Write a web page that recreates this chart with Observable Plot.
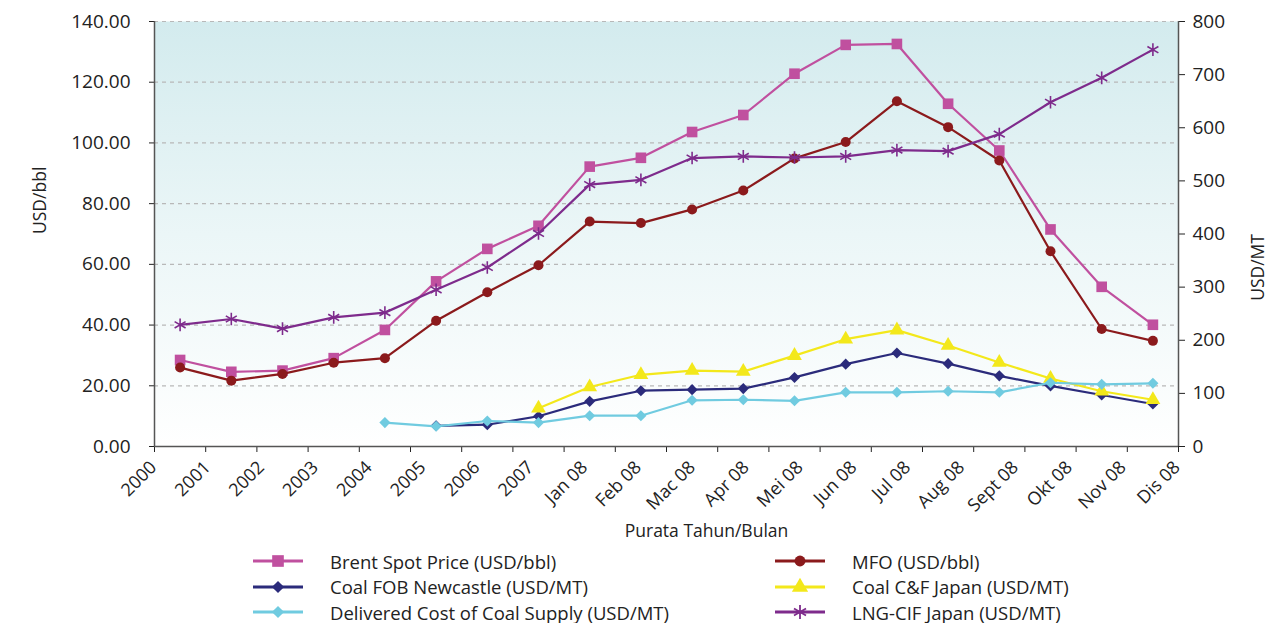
<!DOCTYPE html>
<html>
<head>
<meta charset="utf-8">
<script src="https://cdn.jsdelivr.net/npm/d3@7"></script>
<script src="https://cdn.jsdelivr.net/npm/@observablehq/plot@0.6"></script>
<style>
  html, body { margin: 0; padding: 0; background: #fff; }
  body { width: 1287px; height: 623px; overflow: hidden; font-family: "Open Sans", sans-serif; color: #222; }
  #legend { position: relative; height: 75px; }
  .item { position: absolute; display: flex; align-items: center; height: 26px; font-size: 18.5px; }
  .item svg { margin-right: 27px; }
</style>
</head>
<body>
<div id="chart"></div>
<div id="legend"></div>
<script>
// Categories (x-axis labels)
const categories = ["2000","2001","2002","2003","2004","2005","2006","2007",
  "Jan 08","Feb 08","Mac 08","Apr 08","Mei 08","Jun 08","Jul 08","Aug 08","Sept 08","Okt 08","Nov 08","Dis 08"];

// Left axis series (USD/bbl)
const brent = [28.5, 24.6, 25.0, 29.1, 38.4, 54.4, 65.1, 72.7, 92.2, 95.1, 103.6, 109.2, 122.8, 132.3, 132.6, 112.9, 97.5, 71.5, 52.6, 40.1];
const mfo   = [26.0, 21.7, 23.9, 27.6, 29.1, 41.4, 50.8, 59.7, 74.1, 73.6, 78.1, 84.3, 94.9, 100.3, 113.7, 105.2, 94.2, 64.3, 38.7, 34.8];
// Right axis series (USD/MT)
const coalFob  = [null, null, null, null, null, 39, 41, 57, 85, 105, 107, 109, 130, 155, 176, 156, 133, 114, 97, 80];
const coalCnf  = [null, null, null, null, null, null, null, 72, 112, 135, 143, 141, 171, 202, 219, 190, 158, 128, 104, 88];
const delivered = [null, null, null, null, 45, 38, 48, 45, 58, 58, 87, 88, 86, 102, 102, 104, 102, 120, 117, 119];
const lngCif   = [229, 240, 222, 243, 252, 295, 337, 401, 493, 502, 543, 546, 544, 546, 558, 556, 588, 648, 694, 747];

// Axis ticks
const leftTicks = [0, 20, 40, 60, 80, 100, 120, 140];
const rightTicks = [0, 100, 200, 300, 400, 500, 600, 700, 800];
const leftMax = 140, rightMax = 800;

const seriesDefs = [
  {name: "Brent Spot Price (USD/bbl)", values: brent, axis: "left", color: "#c0509f", symbol: "square", r: 6},
  {name: "MFO (USD/bbl)", values: mfo, axis: "left", color: "#8b1a1c", symbol: "circle", r: 5},
  {name: "Coal FOB Newcastle (USD/MT)", values: coalFob, axis: "right", color: "#2b2b7b", symbol: "diamond2", r: 5},
  {name: "Coal C&F Japan (USD/MT)", values: coalCnf, axis: "right", color: "#f3e81b", symbol: "triangle", r: 5.5},
  {name: "Delivered Cost of Coal Supply (USD/MT)", values: delivered, axis: "right", color: "#70cbe0", symbol: "diamond2", r: 5},
  {name: "LNG-CIF Japan (USD/MT)", values: lngCif, axis: "right", color: "#7e2b8c", symbol: "asterisk", r: 6}
];
const toLeft = v => v * leftMax / rightMax;

const marks = [
  Plot.frame({fill: "url(#bgGrad)", stroke: "none"}),
  Plot.ruleY(leftTicks.filter(d => d > 0), {stroke: "#b8b8b8", strokeWidth: 1.2, strokeDasharray: "4,4"}),
  Plot.axisY(leftTicks, {anchor: "left", label: null, tickFormat: d => d.toFixed(2), tickSize: 5, tickPadding: 19, fontSize: 19}),
  Plot.axisY(rightTicks.map(toLeft), {anchor: "right", label: null, tickFormat: d => String(Math.round(d * rightMax / leftMax)), tickSize: 6, tickPadding: 8, fontSize: 19}),
  Plot.axisX(d3.range(categories.length + 1), {label: null, tickFormat: () => "", tickSize: 6, tickPadding: 0}),
  Plot.ruleX([0, categories.length], {stroke: "#555", strokeWidth: 1.5}),
  Plot.ruleY([0], {stroke: "#555", strokeWidth: 1.5}),
  Plot.text(categories, {
    x: (d, i) => 0.06 + i * 1.052, frameAnchor: "bottom", dy: 22,
    text: d => d, rotate: -45, textAnchor: "end", fontSize: 18, fill: "#222"
  }),
  Plot.text(["USD/bbl"], {frameAnchor: "left", dx: -114, rotate: -90, fontSize: 17.5, fill: "#222"}),
  Plot.text(["USD/MT"], {frameAnchor: "right", dx: 80, rotate: -90, fontSize: 17.5, fill: "#222"}),
  Plot.text(["Purata Tahun/Bulan"], {frameAnchor: "bottom", dx: 40, dy: 90, fontSize: 17.5, fill: "#222"})
];

for (const s of seriesDefs) {
  const data = s.values.map((v, i) => ({i, v})).filter(d => d.v != null)
    .map(d => ({x: d.i + 0.5, y: s.axis === "left" ? d.v : toLeft(d.v)}));
  marks.push(Plot.line(data, {x: "x", y: "y", stroke: s.color, strokeWidth: 2.2}));
  if (s.symbol === "asterisk") {
    marks.push(Plot.dot(data, {x: "x", y: "y", symbol: "asterisk", r: s.r, stroke: s.color, strokeWidth: 1.6, fill: "none"}));
  } else {
    marks.push(Plot.dot(data, {x: "x", y: "y", symbol: s.symbol, r: s.r, fill: s.color, stroke: "none"}));
  }
}

const chart = Plot.plot({
  width: 1287, height: 548,
  marginLeft: 154, marginRight: 109, marginTop: 21, marginBottom: 102,
  x: {type: "linear", domain: [0, categories.length], axis: null},
  y: {domain: [0, leftMax], axis: null},
  style: {fontFamily: "Open Sans", fontSize: "17px", color: "#222", background: "white", overflow: "visible"},
  marks
});

// gradient definition for plot background
const ns = "http://www.w3.org/2000/svg";
const defs = document.createElementNS(ns, "defs");
defs.innerHTML = '<linearGradient id="bgGrad" x1="0" y1="0" x2="0" y2="1">' +
  '<stop offset="0" stop-color="#d3ebee"/><stop offset="0.5" stop-color="#ebf6f7"/><stop offset="1" stop-color="#ffffff"/></linearGradient>';
chart.insertBefore(defs, chart.firstChild);
document.getElementById("chart").appendChild(chart);

// Legend
const legend = document.getElementById("legend");
const symbolTypes = {square: d3.symbolSquare, circle: d3.symbolCircle, diamond2: d3.symbolDiamond2 || d3.symbolDiamond,
  triangle: d3.symbolTriangle, asterisk: d3.symbolAsterisk || d3.symbolCross};
const positions = [[253, 0], [775, 0], [253, 1], [775, 1], [253, 2], [775, 2]];
seriesDefs.forEach((s, k) => {
  const [left, row] = positions[k];
  const div = document.createElement("div");
  div.className = "item";
  div.style.left = left + "px";
  div.style.top = (row * 25.5) + "px";
  const path = d3.symbol(symbolTypes[s.symbol], Math.PI * s.r * s.r * 1.2)();
  const sym = s.symbol === "asterisk"
    ? `<path d="${path}" transform="translate(25,13)" fill="none" stroke="${s.color}" stroke-width="1.8"/>`
    : `<path d="${path}" transform="translate(25,13)" fill="${s.color}"/>`;
  div.innerHTML = `<svg width="50" height="26"><line x1="0" x2="50" y1="13" y2="13" stroke="${s.color}" stroke-width="3"/>${sym}</svg><span>${s.name}</span>`;
  legend.appendChild(div);
});
</script>
</body>
</html>
